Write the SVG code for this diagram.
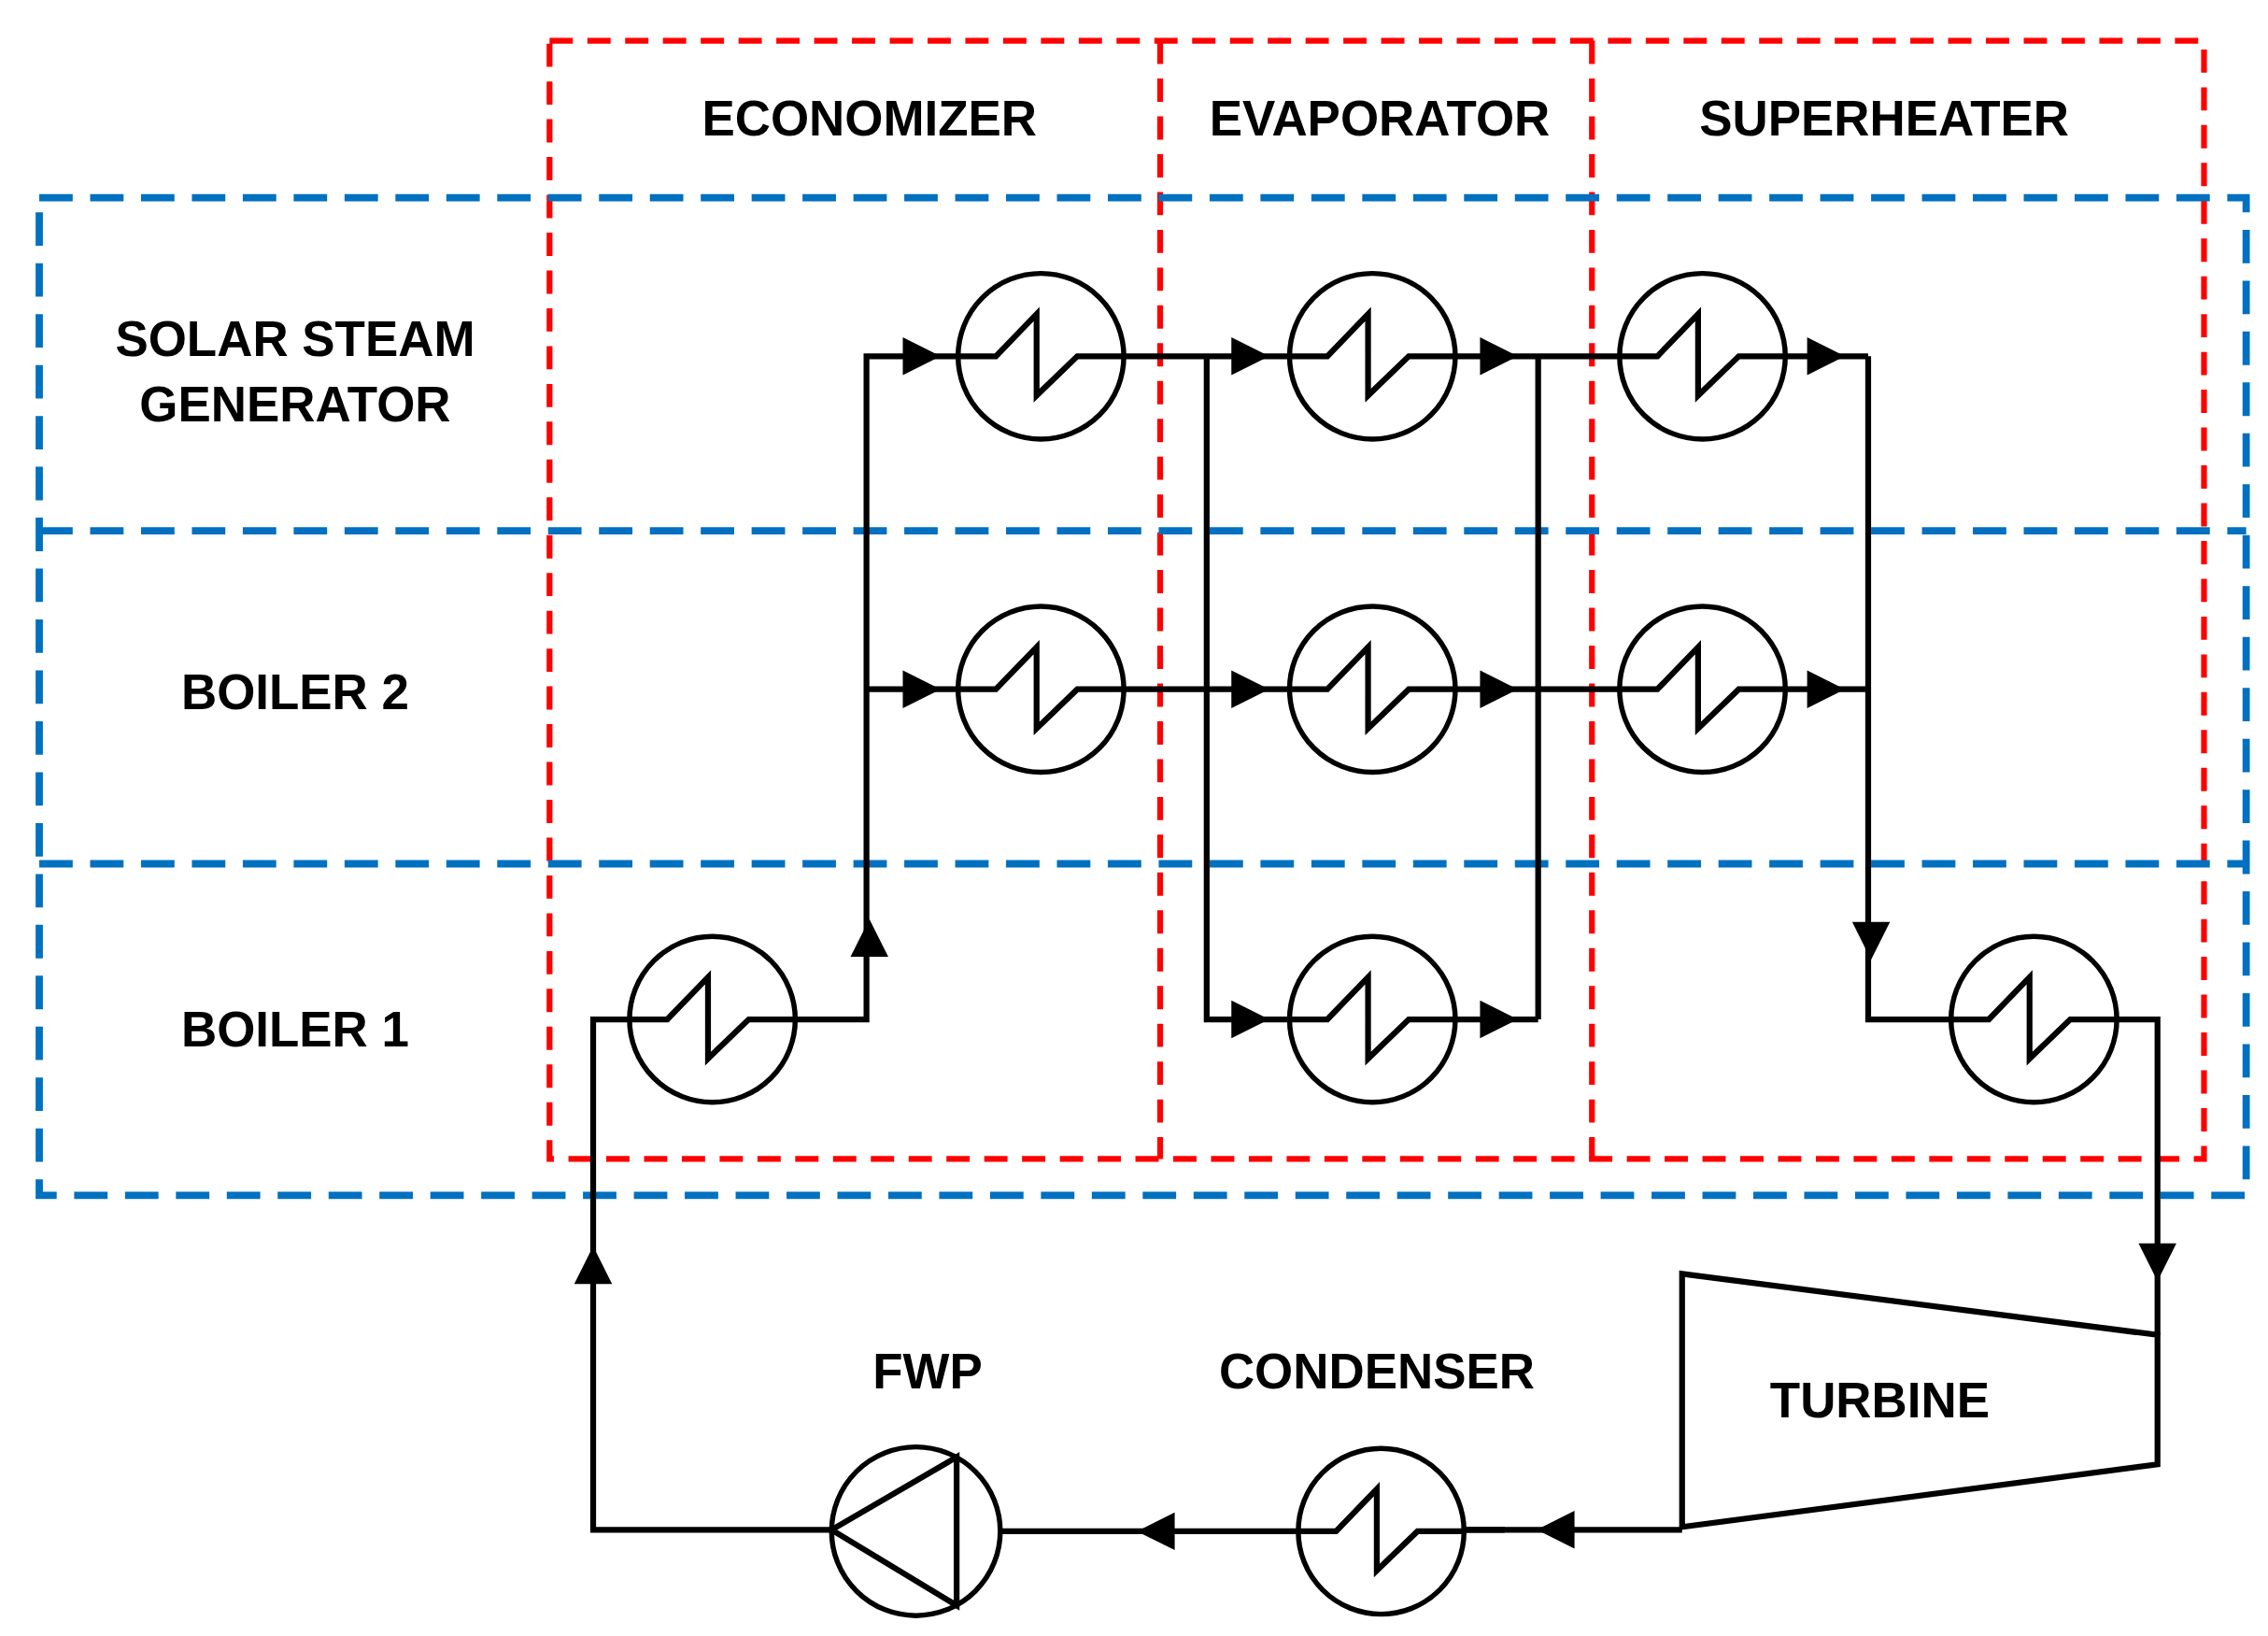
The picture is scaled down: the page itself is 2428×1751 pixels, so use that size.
<svg xmlns="http://www.w3.org/2000/svg" xmlns:xlink="http://www.w3.org/1999/xlink" width="2428" height="1751" viewBox="0 0 2428 1751">
<style>
.red{fill:none;stroke:#ff0000;stroke-width:4;stroke-dasharray:16 10}
.blue{fill:none;stroke:#0070c0;stroke-width:5;stroke-dasharray:23 12}
.ln{fill:none;stroke:#000;stroke-width:4;stroke-linejoin:miter}
.c{fill:none;stroke:#000;stroke-width:3.5}
.t{font-family:"Liberation Sans",Arial,sans-serif;font-weight:bold;font-size:34px;fill:#000;text-anchor:middle;dominant-baseline:central}
</style>
<defs>
<path id="ar" d="M-13,-13 L13,0 L-13,13Z" fill="#000"/>
<g id="hx"><circle r="57" class="c"/><path class="ln" d="M-57,0 H-31 L-3,-29 V27 L25,0 H57"/></g>
</defs>
<rect width="2428" height="1751" fill="#fff"/>
<g transform="scale(1.5564)">
<g id="zones">
<rect class="red" x="378" y="28" width="1138" height="769"/>
<line class="red" x1="798" y1="28" x2="798" y2="797"/>
<line class="red" x1="1095" y1="28" x2="1095" y2="797"/>
<rect class="blue" x="27" y="136" width="1518" height="686"/>
<line class="blue" x1="27" y1="365" x2="1545" y2="365"/>
<line class="blue" x1="27" y1="594" x2="1545" y2="594"/>
</g>
<g id="labels">
<text class="t" x="598" y="81">ECONOMIZER</text>
<text class="t" x="949" y="81">EVAPORATOR</text>
<text class="t" x="1296" y="81">SUPERHEATER</text>
<text class="t" x="203" y="233">SOLAR STEAM</text>
<text class="t" x="203" y="278">GENERATOR</text>
<text class="t" x="203" y="476">BOILER 2</text>
<text class="t" x="203" y="708">BOILER 1</text>
</g>
<g id="connectors">
<path class="ln" d="M572,1052 H408 V701 H433"/>
<path class="ln" d="M547,701 H596 V245 H659"/>
<path class="ln" d="M596,474 H659"/>
<path class="ln" d="M773,245 H887 M773,474 H887 M830,245 V701 H887"/>
<path class="ln" d="M1001,245 H1114 M1001,474 H1114 M1001,701 H1058 M1058,245 V701"/>
<path class="ln" d="M1228,245 H1285 M1228,474 H1285 M1285,245 V701 H1342"/>
<path class="ln" d="M1456,701 H1484 V918"/>
<path class="ln" d="M1157,1052 H1007 M893,1053 H688"/>
<use xlink:href="#ar" transform="translate(634,245)"/>
<use xlink:href="#ar" transform="translate(634,474)"/>
<use xlink:href="#ar" transform="translate(598,645) rotate(-90)"/>
<use xlink:href="#ar" transform="translate(860,245)"/>
<use xlink:href="#ar" transform="translate(860,474)"/>
<use xlink:href="#ar" transform="translate(860,701)"/>
<use xlink:href="#ar" transform="translate(1031,245)"/>
<use xlink:href="#ar" transform="translate(1031,474)"/>
<use xlink:href="#ar" transform="translate(1031,701)"/>
<use xlink:href="#ar" transform="translate(1256,245)"/>
<use xlink:href="#ar" transform="translate(1256,474)"/>
<use xlink:href="#ar" transform="translate(1287,647) rotate(90)"/>
<use xlink:href="#ar" transform="translate(1484,868) rotate(90)"/>
<use xlink:href="#ar" transform="translate(1070,1052) rotate(180)"/>
<use xlink:href="#ar" transform="translate(795,1053) rotate(180)"/>
<use xlink:href="#ar" transform="translate(408,870) rotate(-90)"/>
</g>
<g id="hx-ssg-eco"><use xlink:href="#hx" transform="translate(716,245)"/></g>
<g id="hx-ssg-eva"><use xlink:href="#hx" transform="translate(944,245)"/></g>
<g id="hx-ssg-sh"><use xlink:href="#hx" transform="translate(1171,245)"/></g>
<g id="hx-b2-eco"><use xlink:href="#hx" transform="translate(716,474)"/></g>
<g id="hx-b2-eva"><use xlink:href="#hx" transform="translate(944,474)"/></g>
<g id="hx-b2-sh"><use xlink:href="#hx" transform="translate(1171,474)"/></g>
<g id="hx-b1-eco"><use xlink:href="#hx" transform="translate(490,701)"/></g>
<g id="hx-b1-eva"><use xlink:href="#hx" transform="translate(944,701)"/></g>
<g id="hx-b1-sh"><use xlink:href="#hx" transform="translate(1399,701)"/></g>
<g id="turbine">
<path class="ln" d="M1157,876 L1484,918 V1007 L1157,1050 Z"/>
<text class="t" x="1293" y="963">TURBINE</text>
</g>
<g id="condenser">
<use xlink:href="#hx" transform="translate(950,1053)"/>
<line class="ln" x1="1007" y1="1052" x2="1035" y2="1052"/>
<text class="t" x="947" y="943">CONDENSER</text>
</g>
<g id="fwp">
<circle class="c" cx="630" cy="1053" r="58"/>
<path class="ln" d="M572,1052 L658,1002 V1104 Z"/>
<text class="t" x="638" y="943">FWP</text>
</g>
</g>
</svg>
